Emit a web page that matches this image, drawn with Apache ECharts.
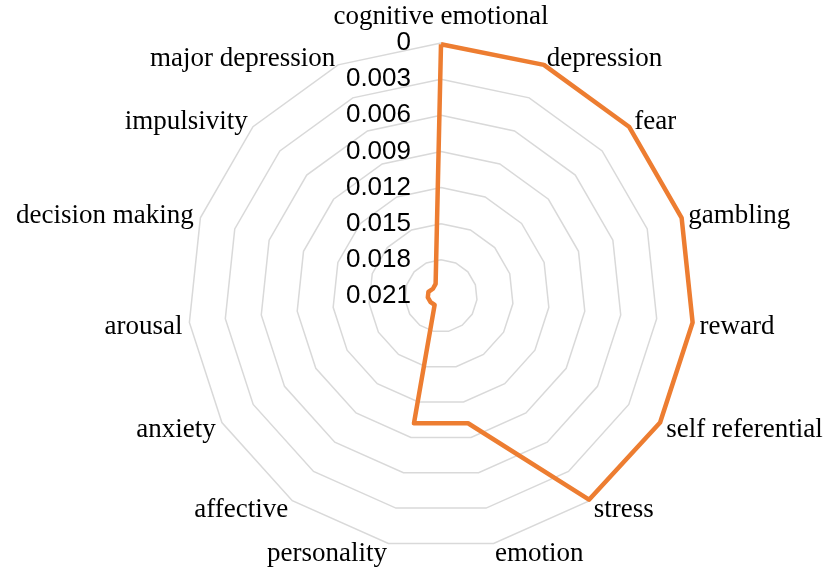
<!DOCTYPE html>
<html>
<head>
<meta charset="utf-8">
<script src="https://cdn.jsdelivr.net/npm/echarts@6/dist/echarts.min.js"></script>
<style>
html,body{margin:0;padding:0;background:#fff;}
#chart{width:828px;height:575px;}
</style>
</head>
<body>
<div id="chart"></div>
<script>
// Categories in clockwise order starting at top
const categories = ['cognitive emotional','depression','fear','gambling','reward','self referential','stress','emotion','personality','affective','anxiety','arousal','decision making','impulsivity','major depression'];
const values = [0.0001, 0.0, 0.0, 0.0, 0.0, 0.0, 0.0001, 0.0102, 0.0102, 0.0201, 0.0200, 0.0199, 0.0199, 0.0201, 0.0199];
const tickLabels = ['0','0.003','0.006','0.009','0.012','0.015','0.018','0.021'];
const axisMax = 0.021;
const lowerNames = ['reward','self referential','stress','emotion','personality','affective','anxiety','arousal'];

// ECharts radar runs counter-clockwise; reorder so categories run clockwise
const order = [0].concat(categories.map((_, i) => i).slice(1).reverse());
const indicator = order.map((idx, k) => {
  const o = { name: categories[idx], min: 0, max: axisMax };
  if (k === 0) o.axisLabel = { show: true };
  return o;
});
const plotted = order.map(idx => axisMax - values[idx]); // inverted scale: 0 at rim

const nameFont = { fontFamily: 'Liberation Serif', fontSize: 27, color: '#000' };
const chart = echarts.init(document.getElementById('chart'), null, {renderer: 'canvas'});
chart.setOption({
  animation: false,
  backgroundColor: '#ffffff',
  radar: {
    center: [441, 296],
    radius: 253,
    startAngle: 90,
    splitNumber: 7,
    shape: 'polygon',
    nameGap: 7,
    axisName: {
      color: '#000',
      fontFamily: 'Liberation Serif',
      fontSize: 27,
      formatter: function (name) {
        if (name === categories[0]) return '{top|' + name + '}';
        if (lowerNames.indexOf(name) >= 0) return '{low|' + name + '}';
        return name;
      },
      rich: {
        top: Object.assign({ padding: [0, 0, 2, 0] }, nameFont),
        low: Object.assign({ padding: [8, 0, 0, 0] }, nameFont)
      }
    },
    axisLine: { show: false },
    axisTick: { show: false },
    axisLabel: {
      show: false,
      color: '#000',
      fontFamily: 'Liberation Sans',
      fontSize: 26,
      margin: 30,
      formatter: function (v) {
        const i = Math.round((axisMax - v) / 0.003);
        return tickLabels[i] !== undefined ? tickLabels[i] : '';
      }
    },
    splitLine: { lineStyle: { color: '#d9d9d9', width: 1.5 } },
    splitArea: { show: false },
    indicator: indicator
  },
  series: [{
    type: 'radar',
    symbol: 'none',
    lineStyle: { color: '#ED7D31', width: 4.5 },
    data: [{ value: plotted }]
  }]
});
</script>
</body>
</html>
